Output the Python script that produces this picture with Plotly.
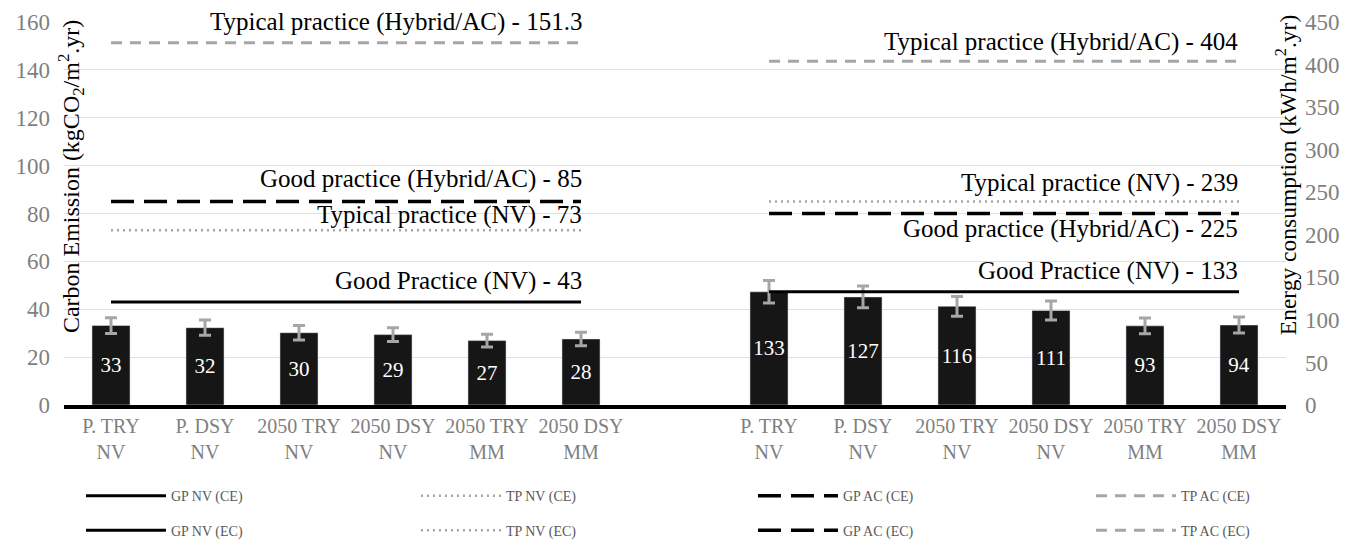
import plotly.graph_objects as go

# ---------------- data ----------------
categories = ["P. TRY<br>NV", "P. DSY<br>NV", "2050 TRY<br>NV", "2050 DSY<br>NV",
              "2050 TRY<br>MM", "2050 DSY<br>MM"]
ce_values = [33.2, 32.3, 30.2, 29.4, 26.9, 27.6]        # carbon emission kgCO2/m2.yr
ce_errors = [3.3, 3.2, 3.0, 2.9, 2.7, 2.8]
ec_values = [133, 127, 116, 111, 93, 94]                # energy consumption kWh/m2.yr
ec_errors = [13.3, 12.7, 11.6, 11.1, 9.3, 9.4]

bench_keys = ["GP NV", "TP NV", "GP AC", "TP AC"]
ce_bench = [43, 73, 85, 151.3]
ec_bench = [133, 239, 225, 404]
bench_names = ["Good Practice (NV)", "Typical practice (NV)",
               "Good practice (Hybrid/AC)", "Typical practice (Hybrid/AC)"]

# ---------------- layout helpers ----------------
group_gap = 1  # empty category slot between the two groups
left_x = list(range(len(categories)))
right_x = [i + len(categories) + group_gap for i in range(len(categories))]

FONT = "Liberation Serif"
GREY = "#a6a6a6"
styles = {
    "GP NV": dict(color="#000000", width=3, dash="solid"),
    "TP NV": dict(color=GREY, width=2.5, dash="2px,4px"),
    "GP AC": dict(color="#000000", width=3.5, dash="23px,10px"),
    "TP AC": dict(color=GREY, width=3, dash="11px,8px"),
}
# label vertical offsets (px) relative to each line: (CE, EC)
label_shift = {"GP NV": (21, 21), "TP NV": (15, 19), "GP AC": (23, -15), "TP AC": (21, 19)}

fig = go.Figure()

fig.add_trace(go.Bar(
    x=left_x, y=ce_values, yaxis="y", width=0.405,
    marker=dict(color="#161616"),
    error_y=dict(type="data", array=ce_errors, color=GREY, thickness=3, width=6),
    text=[f"{v:.0f}" for v in ce_values], textposition="inside",
    insidetextanchor="middle", textangle=0,
    textfont=dict(color="white", size=21, family=FONT),
    showlegend=False, hoverinfo="skip"))

fig.add_trace(go.Bar(
    x=right_x, y=ec_values, yaxis="y2", width=0.405,
    marker=dict(color="#161616"),
    error_y=dict(type="data", array=ec_errors, color=GREY, thickness=3, width=6),
    text=[f"{v:.0f}" for v in ec_values], textposition="inside",
    insidetextanchor="middle", textangle=0,
    textfont=dict(color="white", size=21, family=FONT),
    showlegend=False, hoverinfo="skip"))

# legend placement: one single-entry legend per benchmark line (4 columns x 2 rows)
col_x = [0.0139, 0.288, 0.5638, 0.8404]
row_y = {"CE": -0.238, "EC": -0.328}
legend_layouts = {}
n = 0
for grp, xs, vals, yax in (("CE", left_x, ce_bench, "y"), ("EC", right_x, ec_bench, "y2")):
    for ci, (key, val) in enumerate(zip(bench_keys, vals)):
        n += 1
        lname = "legend" if n == 1 else f"legend{n}"
        fig.add_trace(go.Scatter(
            x=xs, y=[val] * len(xs), yaxis=yax, mode="lines",
            line=styles[key], name=f"{key} ({grp})", legend=lname, hoverinfo="skip"))
        legend_layouts[lname] = dict(
            orientation="h", x=col_x[ci], xanchor="left", y=row_y[grp], yanchor="middle",
            itemwidth=80, font=dict(family=FONT, size=14, color="#595959"),
            bgcolor="rgba(0,0,0,0)")

annotations = []
for key, name, cv, ev in zip(bench_keys, bench_names, ce_bench, ec_bench):
    s_ce, s_ec = label_shift[key]
    annotations.append(dict(x=left_x[-1], y=cv, xref="x", yref="y", text=f"{name} - {cv:g}",
                            showarrow=False, xanchor="right", yanchor="middle",
                            xshift=3, yshift=s_ce,
                            font=dict(family=FONT, size=25, color="#000000")))
    annotations.append(dict(x=right_x[-1], y=ev, xref="x", yref="y2", text=f"{name} - {ev:g}",
                            showarrow=False, xanchor="right", yanchor="middle",
                            xshift=1, yshift=s_ec,
                            font=dict(family=FONT, size=25, color="#000000")))

# axis titles as annotations (drawn between tick labels and the plot, as in the original)
annotations.append(dict(x=0, xref="paper", xshift=7, y=0.595, yref="paper",
                        text="Carbon Emission (kgCO<sub>2</sub>/m<sup>2</sup>.yr)",
                        textangle=-90, showarrow=False, xanchor="center", yanchor="middle",
                        font=dict(family=FONT, size=24, color="#000000")))
annotations.append(dict(x=1, xref="paper", xshift=0, y=0.6, yref="paper",
                        text="Energy consumption (kWh/m<sup>2</sup>.yr)",
                        textangle=-90, showarrow=False, xanchor="center", yanchor="middle",
                        font=dict(family=FONT, size=23.5, color="#000000")))

n_slots = len(categories) * 2 + group_gap
fig.update_layout(
    width=1354, height=542,
    margin=dict(l=56, r=76, t=14, b=145, autoexpand=False),
    paper_bgcolor="white", plot_bgcolor="white",
    font=dict(family=FONT),
    barmode="overlay",
    xaxis=dict(range=[-0.5, n_slots - 0.5], tickvals=left_x + right_x,
               ticktext=categories + categories, showgrid=False, zeroline=False,
               showline=True, linecolor="#000000", linewidth=4, ticks="",
               ticklabelstandoff=0, automargin=False,
               tickfont=dict(family=FONT, size=20, color="#7f7f7f")),
    yaxis=dict(range=[0, 160], dtick=20, showgrid=True, gridcolor="#e0e0e0", gridwidth=1,
               zeroline=False, showline=False, ticks="", automargin=False,
               ticklabelstandoff=13,
               tickfont=dict(family=FONT, size=23, color="#7f7f7f")),
    yaxis2=dict(range=[0, 450], dtick=50, overlaying="y", side="right", showgrid=False,
                zeroline=False, showline=False, ticks="", ticklabelstandoff=18,
                automargin=False,
                tickfont=dict(family=FONT, size=23, color="#7f7f7f")),
    annotations=annotations,
    **legend_layouts,
)

fig.write_html("out.html")
